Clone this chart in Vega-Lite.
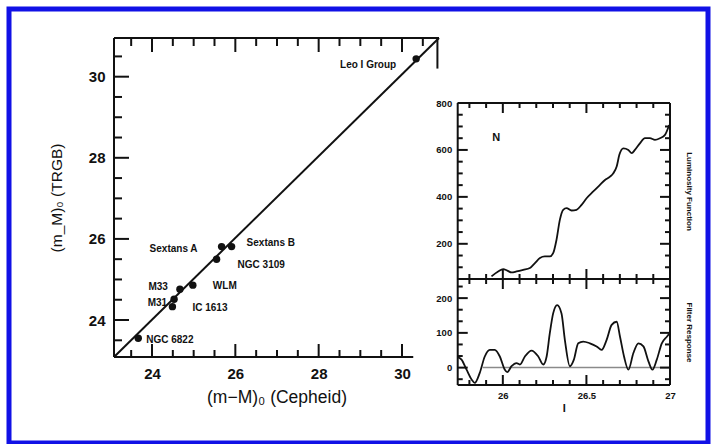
{
  "$schema": "https://vega.github.io/schema/vega-lite/v6.json",
  "autosize": {"type": "none"},
  "width": 699,
  "height": 434,
  "padding": {"left": 9, "top": 9, "right": 9, "bottom": 1},
  "background": "#ffffff",
  "config": {
    "view": {"stroke": "#1111e6", "strokeWidth": 5},
    "axis": {
      "grid": false,
      "ticks": false,
      "domain": false,
      "labelColor": "#111111",
      "titleColor": "#111111",
      "labelFont": "Liberation Sans",
      "titleFont": "Liberation Sans",
      "labelFontWeight": "bold",
      "titleFontWeight": "normal",
      "labelFlush": false,
      "labelOverlap": false,
      "title": null
    },
    "text": {"font": "Liberation Sans", "color": "#111111"}
  },
  "datasets": {
    "galaxies": [
      {"name": "Leo I Group", "cepheid": 30.34, "trgb": 30.44},
      {"name": "Sextans A", "cepheid": 25.67, "trgb": 25.81},
      {"name": "Sextans B", "cepheid": 25.91, "trgb": 25.81},
      {"name": "NGC 3109", "cepheid": 25.55, "trgb": 25.5},
      {"name": "WLM", "cepheid": 24.98, "trgb": 24.86},
      {"name": "M33", "cepheid": 24.67, "trgb": 24.76},
      {"name": "M31", "cepheid": 24.53, "trgb": 24.51},
      {"name": "IC 1613", "cepheid": 24.49, "trgb": 24.33},
      {"name": "NGC 6822", "cepheid": 23.67, "trgb": 23.55}
    ],
    "lumfunc": [
      {"I": 25.932, "N": 61}, {"I": 25.972, "N": 82}, {"I": 26.002, "N": 92}, {"I": 26.026, "N": 86},
      {"I": 26.052, "N": 78}, {"I": 26.082, "N": 82}, {"I": 26.122, "N": 89}, {"I": 26.162, "N": 97},
      {"I": 26.192, "N": 118}, {"I": 26.222, "N": 139}, {"I": 26.251, "N": 146}, {"I": 26.281, "N": 146},
      {"I": 26.301, "N": 160}, {"I": 26.321, "N": 217}, {"I": 26.341, "N": 302}, {"I": 26.361, "N": 345},
      {"I": 26.381, "N": 352}, {"I": 26.411, "N": 342}, {"I": 26.441, "N": 345}, {"I": 26.471, "N": 366},
      {"I": 26.501, "N": 394}, {"I": 26.541, "N": 423}, {"I": 26.581, "N": 451}, {"I": 26.611, "N": 472},
      {"I": 26.641, "N": 486}, {"I": 26.661, "N": 501}, {"I": 26.681, "N": 529}, {"I": 26.697, "N": 579},
      {"I": 26.721, "N": 607}, {"I": 26.751, "N": 600}, {"I": 26.771, "N": 586}, {"I": 26.79, "N": 600},
      {"I": 26.82, "N": 628}, {"I": 26.85, "N": 650}, {"I": 26.88, "N": 650}, {"I": 26.91, "N": 643},
      {"I": 26.94, "N": 650}, {"I": 26.97, "N": 664}, {"I": 26.995, "N": 706}
    ],
    "filter": [
      {"I": 25.73, "R": 30}, {"I": 25.753, "R": 23}, {"I": 25.783, "R": -6}, {"I": 25.813, "R": -34},
      {"I": 25.832, "R": -44}, {"I": 25.862, "R": -15}, {"I": 25.892, "R": 32}, {"I": 25.922, "R": 51},
      {"I": 25.952, "R": 51}, {"I": 25.982, "R": 32}, {"I": 26.012, "R": -6}, {"I": 26.026, "R": -13},
      {"I": 26.052, "R": 4}, {"I": 26.082, "R": 13}, {"I": 26.102, "R": 9}, {"I": 26.132, "R": 32},
      {"I": 26.172, "R": 49}, {"I": 26.212, "R": 32}, {"I": 26.242, "R": 9}, {"I": 26.262, "R": 32},
      {"I": 26.281, "R": 99}, {"I": 26.301, "R": 156}, {"I": 26.325, "R": 180}, {"I": 26.351, "R": 156},
      {"I": 26.371, "R": 80}, {"I": 26.401, "R": 4}, {"I": 26.425, "R": 23}, {"I": 26.451, "R": 70},
      {"I": 26.481, "R": 75}, {"I": 26.521, "R": 70}, {"I": 26.561, "R": 61}, {"I": 26.591, "R": 51},
      {"I": 26.621, "R": 80}, {"I": 26.651, "R": 123}, {"I": 26.681, "R": 132}, {"I": 26.701, "R": 89},
      {"I": 26.725, "R": 32}, {"I": 26.751, "R": -6}, {"I": 26.781, "R": 42}, {"I": 26.811, "R": 70},
      {"I": 26.841, "R": 61}, {"I": 26.871, "R": 18}, {"I": 26.895, "R": -6}, {"I": 26.921, "R": 23},
      {"I": 26.951, "R": 70}, {"I": 26.981, "R": 89}, {"I": 27.0, "R": 100}
    ]
  },
  "resolve": {"scale": {"x": "independent", "y": "independent"}},
  "layer": [
    {
      "description": "Distance moduli: TRGB against Cepheid, with the one-to-one line",
      "resolve": {"axis": {"x": "independent", "y": "independent"}},
      "layer": [
        {
          "data": {"values": [{}]},
          "mark": {"type": "rule", "color": "#111111", "strokeWidth": 2},
          "encoding": {
            "x": {"datum": 23.088, "type": "quantitative", "scale": {"domain": [23.088, 30.888], "range": [105, 430], "nice": false, "zero": false}, "axis": null},
            "y": {"datum": 23.088, "type": "quantitative", "scale": {"domain": [23.088, 30.954], "range": [348, 29], "nice": false, "zero": false}, "axis": null},
            "x2": {"datum": 30.888},
            "y2": {"datum": 30.954}
          }
        },
        {
          "data": {"values": [{}]},
          "mark": {"type": "rule", "color": "#111111", "strokeWidth": 2},
          "encoding": {
            "x": {"datum": 23.088, "type": "quantitative",
              "scale": {"domain": [23.088, 30.888], "range": [105, 430], "nice": false, "zero": false},
              "axis": {"orient": "bottom", "offset": -86, "values": [24, 26, 28, 30], "format": "d",
                "labelPadding": 9, "labelFontSize": 15,
                "title": "(m−M)₀ (Cepheid)", "titleFontSize": 17.5, "titlePadding": 7}},
            "x2": {"datum": 30.27},
            "y": {"datum": 23.088, "type": "quantitative",
              "scale": {"domain": [23.088, 30.954], "range": [348, 29], "nice": false, "zero": false},
              "axis": {"orient": "left", "offset": -105, "values": [24, 26, 28, 30], "format": "d",
                "labelPadding": 9, "labelFontSize": 15,
                "title": "(m_M)₀ (TRGB)", "titleFontSize": 15.5, "titlePadding": 24}}
          }
        },
        {
          "data": {"values": [{}]},
          "mark": {"type": "rule", "color": "#111111", "strokeWidth": 2},
          "encoding": {
            "x": {"datum": 23.088, "type": "quantitative", "scale": {"domain": [23.088, 30.888], "range": [105, 430], "nice": false, "zero": false}, "axis": null},
            "y": {"datum": 23.088, "type": "quantitative", "scale": {"domain": [23.088, 30.954], "range": [348, 29], "nice": false, "zero": false}, "axis": null},
            "y2": {"datum": 30.954}
          }
        },
        {
          "data": {"values": [{}]},
          "mark": {"type": "rule", "color": "#111111", "strokeWidth": 2},
          "encoding": {
            "x": {"datum": 23.088, "type": "quantitative", "scale": {"domain": [23.088, 30.888], "range": [105, 430], "nice": false, "zero": false}, "axis": null},
            "x2": {"datum": 30.888},
            "y": {"datum": 30.954, "type": "quantitative", "scale": {"domain": [23.088, 30.954], "range": [348, 29], "nice": false, "zero": false}, "axis": null}
          }
        },
        {
          "data": {"values": [{}]},
          "mark": {"type": "rule", "color": "#111111", "strokeWidth": 2},
          "encoding": {
            "x": {"datum": 30.85, "type": "quantitative", "scale": {"domain": [23.088, 30.888], "range": [105, 430], "nice": false, "zero": false}, "axis": null},
            "y": {"datum": 30.2, "type": "quantitative", "scale": {"domain": [23.088, 30.954], "range": [348, 29], "nice": false, "zero": false}, "axis": null},
            "y2": {"datum": 30.954}
          }
        },
        {
          "data": {"values": [{"at": 24}, {"at": 26}, {"at": 28}, {"at": 30}]},
          "mark": {"type": "rule", "color": "#111111", "strokeWidth": 2},
          "encoding": {
            "x": {"field": "at", "type": "quantitative", "scale": {"domain": [23.088, 30.888], "range": [105, 430], "nice": false, "zero": false}, "axis": null},
            "y": {"datum": 23.088, "type": "quantitative", "scale": {"domain": [23.088, 30.954], "range": [348, 29], "nice": false, "zero": false}, "axis": null},
            "y2": {"datum": 23.408}
          }
        },
        {
          "data": {"values": [{"at": 23.5}, {"at": 24.5}, {"at": 25}, {"at": 25.5}, {"at": 26.5}, {"at": 27}, {"at": 27.5}, {"at": 28.5}, {"at": 29}, {"at": 29.5}]},
          "mark": {"type": "rule", "color": "#111111", "strokeWidth": 2},
          "encoding": {
            "x": {"field": "at", "type": "quantitative", "scale": {"domain": [23.088, 30.888], "range": [105, 430], "nice": false, "zero": false}, "axis": null},
            "y": {"datum": 23.088, "type": "quantitative", "scale": {"domain": [23.088, 30.954], "range": [348, 29], "nice": false, "zero": false}, "axis": null},
            "y2": {"datum": 23.261}
          }
        },
        {
          "data": {"values": [{"at": 24}, {"at": 26}, {"at": 28}, {"at": 30}]},
          "mark": {"type": "rule", "color": "#111111", "strokeWidth": 2},
          "encoding": {
            "x": {"field": "at", "type": "quantitative", "scale": {"domain": [23.088, 30.888], "range": [105, 430], "nice": false, "zero": false}, "axis": null},
            "y": {"datum": 30.954, "type": "quantitative", "scale": {"domain": [23.088, 30.954], "range": [348, 29], "nice": false, "zero": false}, "axis": null},
            "y2": {"datum": 30.609}
          }
        },
        {
          "data": {"values": [{"at": 23.5}, {"at": 24.5}, {"at": 25}, {"at": 25.5}, {"at": 26.5}, {"at": 27}, {"at": 27.5}, {"at": 28.5}, {"at": 29}, {"at": 29.5}, {"at": 30.5}]},
          "mark": {"type": "rule", "color": "#111111", "strokeWidth": 2},
          "encoding": {
            "x": {"field": "at", "type": "quantitative", "scale": {"domain": [23.088, 30.888], "range": [105, 430], "nice": false, "zero": false}, "axis": null},
            "y": {"datum": 30.954, "type": "quantitative", "scale": {"domain": [23.088, 30.954], "range": [348, 29], "nice": false, "zero": false}, "axis": null},
            "y2": {"datum": 30.757}
          }
        },
        {
          "data": {"values": [{"at": 24}, {"at": 26}, {"at": 28}, {"at": 30}]},
          "mark": {"type": "rule", "color": "#111111", "strokeWidth": 2},
          "encoding": {
            "x": {"datum": 23.088, "type": "quantitative", "scale": {"domain": [23.088, 30.888], "range": [105, 430], "nice": false, "zero": false}, "axis": null},
            "x2": {"datum": 23.448},
            "y": {"field": "at", "type": "quantitative", "scale": {"domain": [23.088, 30.954], "range": [348, 29], "nice": false, "zero": false}, "axis": null}
          }
        },
        {
          "data": {"values": [{"at": 23.5}, {"at": 24.5}, {"at": 25}, {"at": 25.5}, {"at": 26.5}, {"at": 27}, {"at": 27.5}, {"at": 28.5}, {"at": 29}, {"at": 29.5}, {"at": 30.5}]},
          "mark": {"type": "rule", "color": "#111111", "strokeWidth": 2},
          "encoding": {
            "x": {"datum": 23.088, "type": "quantitative", "scale": {"domain": [23.088, 30.888], "range": [105, 430], "nice": false, "zero": false}, "axis": null},
            "x2": {"datum": 23.28},
            "y": {"field": "at", "type": "quantitative", "scale": {"domain": [23.088, 30.954], "range": [348, 29], "nice": false, "zero": false}, "axis": null}
          }
        },
        {
          "data": {"name": "galaxies"},
          "mark": {"type": "circle", "size": 55, "color": "#111111", "opacity": 1},
          "encoding": {
            "x": {"field": "cepheid", "type": "quantitative", "scale": {"domain": [23.088, 30.888], "range": [105, 430], "nice": false, "zero": false}, "axis": null},
            "y": {"field": "trgb", "type": "quantitative", "scale": {"domain": [23.088, 30.954], "range": [348, 29], "nice": false, "zero": false}, "axis": null}
          }
        },
        {
          "data": {"name": "galaxies"},
          "transform": [{"filter": {"field": "name", "oneOf": ["Leo I Group"]}}],
          "mark": {"type": "text", "align": "right", "baseline": "middle", "dx": -20, "dy": 6, "fontSize": 10, "fontWeight": "bold"},
          "encoding": {
            "x": {"field": "cepheid", "type": "quantitative", "scale": {"domain": [23.088, 30.888], "range": [105, 430], "nice": false, "zero": false}, "axis": null},
            "y": {"field": "trgb", "type": "quantitative", "scale": {"domain": [23.088, 30.954], "range": [348, 29], "nice": false, "zero": false}, "axis": null},
            "text": {"field": "name"}
          }
        },
        {
          "data": {"name": "galaxies"},
          "transform": [{"filter": {"field": "name", "oneOf": ["Sextans A"]}}],
          "mark": {"type": "text", "align": "right", "baseline": "middle", "dx": -24, "dy": 2, "fontSize": 10, "fontWeight": "bold"},
          "encoding": {
            "x": {"field": "cepheid", "type": "quantitative", "scale": {"domain": [23.088, 30.888], "range": [105, 430], "nice": false, "zero": false}, "axis": null},
            "y": {"field": "trgb", "type": "quantitative", "scale": {"domain": [23.088, 30.954], "range": [348, 29], "nice": false, "zero": false}, "axis": null},
            "text": {"field": "name"}
          }
        },
        {
          "data": {"name": "galaxies"},
          "transform": [{"filter": {"field": "name", "oneOf": ["M33"]}}],
          "mark": {"type": "text", "align": "right", "baseline": "middle", "dx": -12, "dy": -2, "fontSize": 10, "fontWeight": "bold"},
          "encoding": {
            "x": {"field": "cepheid", "type": "quantitative", "scale": {"domain": [23.088, 30.888], "range": [105, 430], "nice": false, "zero": false}, "axis": null},
            "y": {"field": "trgb", "type": "quantitative", "scale": {"domain": [23.088, 30.954], "range": [348, 29], "nice": false, "zero": false}, "axis": null},
            "text": {"field": "name"}
          }
        },
        {
          "data": {"name": "galaxies"},
          "transform": [{"filter": {"field": "name", "oneOf": ["M31"]}}],
          "mark": {"type": "text", "align": "right", "baseline": "middle", "dx": -7, "dy": 4, "fontSize": 10, "fontWeight": "bold"},
          "encoding": {
            "x": {"field": "cepheid", "type": "quantitative", "scale": {"domain": [23.088, 30.888], "range": [105, 430], "nice": false, "zero": false}, "axis": null},
            "y": {"field": "trgb", "type": "quantitative", "scale": {"domain": [23.088, 30.954], "range": [348, 29], "nice": false, "zero": false}, "axis": null},
            "text": {"field": "name"}
          }
        },
        {
          "data": {"name": "galaxies"},
          "transform": [{"filter": {"field": "name", "oneOf": ["Sextans B"]}}],
          "mark": {"type": "text", "align": "left", "baseline": "middle", "dx": 15, "dy": -4, "fontSize": 10, "fontWeight": "bold"},
          "encoding": {
            "x": {"field": "cepheid", "type": "quantitative", "scale": {"domain": [23.088, 30.888], "range": [105, 430], "nice": false, "zero": false}, "axis": null},
            "y": {"field": "trgb", "type": "quantitative", "scale": {"domain": [23.088, 30.954], "range": [348, 29], "nice": false, "zero": false}, "axis": null},
            "text": {"field": "name"}
          }
        },
        {
          "data": {"name": "galaxies"},
          "transform": [{"filter": {"field": "name", "oneOf": ["NGC 3109"]}}],
          "mark": {"type": "text", "align": "left", "baseline": "middle", "dx": 21, "dy": 6, "fontSize": 10, "fontWeight": "bold"},
          "encoding": {
            "x": {"field": "cepheid", "type": "quantitative", "scale": {"domain": [23.088, 30.888], "range": [105, 430], "nice": false, "zero": false}, "axis": null},
            "y": {"field": "trgb", "type": "quantitative", "scale": {"domain": [23.088, 30.954], "range": [348, 29], "nice": false, "zero": false}, "axis": null},
            "text": {"field": "name"}
          }
        },
        {
          "data": {"name": "galaxies"},
          "transform": [{"filter": {"field": "name", "oneOf": ["WLM", "IC 1613"]}}],
          "mark": {"type": "text", "align": "left", "baseline": "middle", "dx": 20, "dy": 1, "fontSize": 10, "fontWeight": "bold"},
          "encoding": {
            "x": {"field": "cepheid", "type": "quantitative", "scale": {"domain": [23.088, 30.888], "range": [105, 430], "nice": false, "zero": false}, "axis": null},
            "y": {"field": "trgb", "type": "quantitative", "scale": {"domain": [23.088, 30.954], "range": [348, 29], "nice": false, "zero": false}, "axis": null},
            "text": {"field": "name"}
          }
        },
        {
          "data": {"name": "galaxies"},
          "transform": [{"filter": {"field": "name", "oneOf": ["NGC 6822"]}}],
          "mark": {"type": "text", "align": "left", "baseline": "middle", "dx": 8, "dy": 2, "fontSize": 10, "fontWeight": "bold"},
          "encoding": {
            "x": {"field": "cepheid", "type": "quantitative", "scale": {"domain": [23.088, 30.888], "range": [105, 430], "nice": false, "zero": false}, "axis": null},
            "y": {"field": "trgb", "type": "quantitative", "scale": {"domain": [23.088, 30.954], "range": [348, 29], "nice": false, "zero": false}, "axis": null},
            "text": {"field": "name"}
          }
        }
      ]
    },
    {
      "description": "Luminosity function of the upper giant branch",
      "resolve": {"axis": {"x": "independent", "y": "independent"}},
      "layer": [
        {
          "data": {"values": [{}]},
          "mark": {"type": "rule", "color": "#111111", "strokeWidth": 2},
          "encoding": {
            "x": {"datum": 25.73, "type": "quantitative", "scale": {"domain": [25.73, 27.0], "range": [448.7, 661], "nice": false, "zero": false}, "axis": null},
            "y": {"datum": 50, "type": "quantitative",
              "scale": {"domain": [50, 800], "range": [270, 94], "nice": false, "zero": false},
              "axis": {"orient": "left", "offset": -448.7, "values": [200, 400, 600, 800], "format": "d", "labelPadding": 6, "labelFontSize": 9.5}},
            "y2": {"datum": 800}
          }
        },
        {
          "data": {"values": [{}]},
          "mark": {"type": "rule", "color": "#111111", "strokeWidth": 2},
          "encoding": {
            "x": {"datum": 27.0, "type": "quantitative", "scale": {"domain": [25.73, 27.0], "range": [448.7, 661], "nice": false, "zero": false}, "axis": null},
            "y": {"datum": 50, "type": "quantitative",
              "scale": {"domain": [50, 800], "range": [270, 94], "nice": false, "zero": false},
              "axis": {"orient": "right", "offset": -38, "labels": false,
                "title": "Luminosity Function", "titleFontSize": 8, "titleFontWeight": "bold", "titlePadding": 14}},
            "y2": {"datum": 800}
          }
        },
        {
          "data": {"values": [{}]},
          "mark": {"type": "rule", "color": "#111111", "strokeWidth": 2},
          "encoding": {
            "x": {"datum": 25.73, "type": "quantitative", "scale": {"domain": [25.73, 27.0], "range": [448.7, 661], "nice": false, "zero": false}, "axis": null},
            "x2": {"datum": 27.0},
            "y": {"datum": 800, "type": "quantitative", "scale": {"domain": [50, 800], "range": [270, 94], "nice": false, "zero": false}, "axis": null}
          }
        },
        {
          "data": {"values": [{}]},
          "mark": {"type": "rule", "color": "#111111", "strokeWidth": 2},
          "encoding": {
            "x": {"datum": 25.73, "type": "quantitative", "scale": {"domain": [25.73, 27.0], "range": [448.7, 661], "nice": false, "zero": false}, "axis": null},
            "x2": {"datum": 27.0},
            "y": {"datum": 50, "type": "quantitative", "scale": {"domain": [50, 800], "range": [270, 94], "nice": false, "zero": false}, "axis": null}
          }
        },
        {
          "data": {"values": [{"at": 26}, {"at": 26.5}, {"at": 27}]},
          "mark": {"type": "rule", "color": "#111111", "strokeWidth": 2},
          "encoding": {
            "x": {"field": "at", "type": "quantitative", "scale": {"domain": [25.73, 27.0], "range": [448.7, 661], "nice": false, "zero": false}, "axis": null},
            "y": {"datum": 800, "type": "quantitative", "scale": {"domain": [50, 800], "range": [270, 94], "nice": false, "zero": false}, "axis": null},
            "y2": {"datum": 757.4}
          }
        },
        {
          "data": {"values": [{"at": 25.8}, {"at": 25.9}, {"at": 26.1}, {"at": 26.2}, {"at": 26.3}, {"at": 26.4}, {"at": 26.6}, {"at": 26.7}, {"at": 26.8}, {"at": 26.9}]},
          "mark": {"type": "rule", "color": "#111111", "strokeWidth": 2},
          "encoding": {
            "x": {"field": "at", "type": "quantitative", "scale": {"domain": [25.73, 27.0], "range": [448.7, 661], "nice": false, "zero": false}, "axis": null},
            "y": {"datum": 800, "type": "quantitative", "scale": {"domain": [50, 800], "range": [270, 94], "nice": false, "zero": false}, "axis": null},
            "y2": {"datum": 778.7}
          }
        },
        {
          "data": {"values": [{"at": 26}, {"at": 26.5}, {"at": 27}]},
          "mark": {"type": "rule", "color": "#111111", "strokeWidth": 2},
          "encoding": {
            "x": {"field": "at", "type": "quantitative", "scale": {"domain": [25.73, 27.0], "range": [448.7, 661], "nice": false, "zero": false}, "axis": null},
            "y": {"datum": 50, "type": "quantitative", "scale": {"domain": [50, 800], "range": [270, 94], "nice": false, "zero": false}, "axis": null},
            "y2": {"datum": 92.6}
          }
        },
        {
          "data": {"values": [{"at": 25.8}, {"at": 25.9}, {"at": 26.1}, {"at": 26.2}, {"at": 26.3}, {"at": 26.4}, {"at": 26.6}, {"at": 26.7}, {"at": 26.8}, {"at": 26.9}]},
          "mark": {"type": "rule", "color": "#111111", "strokeWidth": 2},
          "encoding": {
            "x": {"field": "at", "type": "quantitative", "scale": {"domain": [25.73, 27.0], "range": [448.7, 661], "nice": false, "zero": false}, "axis": null},
            "y": {"datum": 50, "type": "quantitative", "scale": {"domain": [50, 800], "range": [270, 94], "nice": false, "zero": false}, "axis": null},
            "y2": {"datum": 71.3}
          }
        },
        {
          "data": {"values": [{"at": 200}, {"at": 400}, {"at": 600}, {"at": 800}]},
          "mark": {"type": "rule", "color": "#111111", "strokeWidth": 2},
          "encoding": {
            "x": {"datum": 25.73, "type": "quantitative", "scale": {"domain": [25.73, 27.0], "range": [448.7, 661], "nice": false, "zero": false}, "axis": null},
            "x2": {"datum": 25.79},
            "y": {"field": "at", "type": "quantitative", "scale": {"domain": [50, 800], "range": [270, 94], "nice": false, "zero": false}, "axis": null}
          }
        },
        {
          "data": {"values": [{"at": 100}, {"at": 150}, {"at": 250}, {"at": 300}, {"at": 350}, {"at": 450}, {"at": 500}, {"at": 550}, {"at": 650}, {"at": 700}, {"at": 750}]},
          "mark": {"type": "rule", "color": "#111111", "strokeWidth": 2},
          "encoding": {
            "x": {"datum": 25.73, "type": "quantitative", "scale": {"domain": [25.73, 27.0], "range": [448.7, 661], "nice": false, "zero": false}, "axis": null},
            "x2": {"datum": 25.76},
            "y": {"field": "at", "type": "quantitative", "scale": {"domain": [50, 800], "range": [270, 94], "nice": false, "zero": false}, "axis": null}
          }
        },
        {
          "data": {"values": [{"at": 200}, {"at": 400}, {"at": 600}, {"at": 800}]},
          "mark": {"type": "rule", "color": "#111111", "strokeWidth": 2},
          "encoding": {
            "x": {"datum": 27.0, "type": "quantitative", "scale": {"domain": [25.73, 27.0], "range": [448.7, 661], "nice": false, "zero": false}, "axis": null},
            "x2": {"datum": 26.94},
            "y": {"field": "at", "type": "quantitative", "scale": {"domain": [50, 800], "range": [270, 94], "nice": false, "zero": false}, "axis": null}
          }
        },
        {
          "data": {"values": [{"at": 100}, {"at": 150}, {"at": 250}, {"at": 300}, {"at": 350}, {"at": 450}, {"at": 500}, {"at": 550}, {"at": 650}, {"at": 700}, {"at": 750}]},
          "mark": {"type": "rule", "color": "#111111", "strokeWidth": 2},
          "encoding": {
            "x": {"datum": 27.0, "type": "quantitative", "scale": {"domain": [25.73, 27.0], "range": [448.7, 661], "nice": false, "zero": false}, "axis": null},
            "x2": {"datum": 26.97},
            "y": {"field": "at", "type": "quantitative", "scale": {"domain": [50, 800], "range": [270, 94], "nice": false, "zero": false}, "axis": null}
          }
        },
        {
          "data": {"name": "lumfunc"},
          "mark": {"type": "line", "color": "#111111", "strokeWidth": 1.8, "interpolate": "monotone"},
          "encoding": {
            "x": {"field": "I", "type": "quantitative", "scale": {"domain": [25.73, 27.0], "range": [448.7, 661], "nice": false, "zero": false}, "axis": null},
            "y": {"field": "N", "type": "quantitative", "scale": {"domain": [50, 800], "range": [270, 94], "nice": false, "zero": false}, "axis": null}
          }
        },
        {
          "data": {"values": [{}]},
          "mark": {"type": "text", "fontSize": 11, "fontWeight": "bold", "align": "center", "baseline": "middle"},
          "encoding": {
            "x": {"datum": 25.96, "type": "quantitative", "scale": {"domain": [25.73, 27.0], "range": [448.7, 661], "nice": false, "zero": false}, "axis": null},
            "y": {"datum": 650, "type": "quantitative", "scale": {"domain": [50, 800], "range": [270, 94], "nice": false, "zero": false}, "axis": null},
            "text": {"value": "N"}
          }
        }
      ]
    },
    {
      "description": "Response of the edge-detection filter",
      "resolve": {"axis": {"x": "independent", "y": "independent"}},
      "layer": [
        {
          "data": {"values": [{}]},
          "mark": {"type": "rule", "color": "#8a8a8a", "strokeWidth": 1.5},
          "encoding": {
            "x": {"datum": 25.88, "type": "quantitative", "scale": {"domain": [25.73, 27.0], "range": [448.7, 661], "nice": false, "zero": false}, "axis": null},
            "x2": {"datum": 27.0},
            "y": {"datum": 0, "type": "quantitative", "scale": {"domain": [-50, 255], "range": [376, 270], "nice": false, "zero": false}, "axis": null}
          }
        },
        {
          "data": {"values": [{}]},
          "mark": {"type": "rule", "color": "#111111", "strokeWidth": 2},
          "encoding": {
            "x": {"datum": 25.73, "type": "quantitative",
              "scale": {"domain": [25.73, 27.0], "range": [448.7, 661], "nice": false, "zero": false},
              "axis": {"orient": "bottom", "offset": -58, "values": [26, 26.5, 27], "format": "~g",
                "labelPadding": 5, "labelFontSize": 9.5,
                "title": "I", "titleFontSize": 11, "titleFontWeight": "bold", "titlePadding": 3}},
            "y": {"datum": -50, "type": "quantitative",
              "scale": {"domain": [-50, 255], "range": [376, 270], "nice": false, "zero": false},
              "axis": {"orient": "left", "offset": -448.7, "values": [0, 100, 200], "format": "d", "labelPadding": 6, "labelFontSize": 9.5}},
            "y2": {"datum": 255}
          }
        },
        {
          "data": {"values": [{}]},
          "mark": {"type": "rule", "color": "#111111", "strokeWidth": 2},
          "encoding": {
            "x": {"datum": 27.0, "type": "quantitative", "scale": {"domain": [25.73, 27.0], "range": [448.7, 661], "nice": false, "zero": false}, "axis": null},
            "y": {"datum": -50, "type": "quantitative",
              "scale": {"domain": [-50, 255], "range": [376, 270], "nice": false, "zero": false},
              "axis": {"orient": "right", "offset": -38, "labels": false,
                "title": "Filter Response", "titleFontSize": 8, "titleFontWeight": "bold", "titlePadding": 14}},
            "y2": {"datum": 255}
          }
        },
        {
          "data": {"values": [{}]},
          "mark": {"type": "rule", "color": "#111111", "strokeWidth": 2},
          "encoding": {
            "x": {"datum": 25.73, "type": "quantitative", "scale": {"domain": [25.73, 27.0], "range": [448.7, 661], "nice": false, "zero": false}, "axis": null},
            "x2": {"datum": 27.0},
            "y": {"datum": 255, "type": "quantitative", "scale": {"domain": [-50, 255], "range": [376, 270], "nice": false, "zero": false}, "axis": null}
          }
        },
        {
          "data": {"values": [{}]},
          "mark": {"type": "rule", "color": "#111111", "strokeWidth": 2},
          "encoding": {
            "x": {"datum": 25.73, "type": "quantitative", "scale": {"domain": [25.73, 27.0], "range": [448.7, 661], "nice": false, "zero": false}, "axis": null},
            "x2": {"datum": 27.0},
            "y": {"datum": -50, "type": "quantitative", "scale": {"domain": [-50, 255], "range": [376, 270], "nice": false, "zero": false}, "axis": null}
          }
        },
        {
          "data": {"values": [{"at": 26}, {"at": 26.5}, {"at": 27}]},
          "mark": {"type": "rule", "color": "#111111", "strokeWidth": 2},
          "encoding": {
            "x": {"field": "at", "type": "quantitative", "scale": {"domain": [25.73, 27.0], "range": [448.7, 661], "nice": false, "zero": false}, "axis": null},
            "y": {"datum": 255, "type": "quantitative", "scale": {"domain": [-50, 255], "range": [376, 270], "nice": false, "zero": false}, "axis": null},
            "y2": {"datum": 226.2}
          }
        },
        {
          "data": {"values": [{"at": 25.8}, {"at": 25.9}, {"at": 26.1}, {"at": 26.2}, {"at": 26.3}, {"at": 26.4}, {"at": 26.6}, {"at": 26.7}, {"at": 26.8}, {"at": 26.9}]},
          "mark": {"type": "rule", "color": "#111111", "strokeWidth": 2},
          "encoding": {
            "x": {"field": "at", "type": "quantitative", "scale": {"domain": [25.73, 27.0], "range": [448.7, 661], "nice": false, "zero": false}, "axis": null},
            "y": {"datum": 255, "type": "quantitative", "scale": {"domain": [-50, 255], "range": [376, 270], "nice": false, "zero": false}, "axis": null},
            "y2": {"datum": 240.6}
          }
        },
        {
          "data": {"values": [{"at": 26}, {"at": 26.5}, {"at": 27}]},
          "mark": {"type": "rule", "color": "#111111", "strokeWidth": 2},
          "encoding": {
            "x": {"field": "at", "type": "quantitative", "scale": {"domain": [25.73, 27.0], "range": [448.7, 661], "nice": false, "zero": false}, "axis": null},
            "y": {"datum": -50, "type": "quantitative", "scale": {"domain": [-50, 255], "range": [376, 270], "nice": false, "zero": false}, "axis": null},
            "y2": {"datum": -21.2}
          }
        },
        {
          "data": {"values": [{"at": 25.8}, {"at": 25.9}, {"at": 26.1}, {"at": 26.2}, {"at": 26.3}, {"at": 26.4}, {"at": 26.6}, {"at": 26.7}, {"at": 26.8}, {"at": 26.9}]},
          "mark": {"type": "rule", "color": "#111111", "strokeWidth": 2},
          "encoding": {
            "x": {"field": "at", "type": "quantitative", "scale": {"domain": [25.73, 27.0], "range": [448.7, 661], "nice": false, "zero": false}, "axis": null},
            "y": {"datum": -50, "type": "quantitative", "scale": {"domain": [-50, 255], "range": [376, 270], "nice": false, "zero": false}, "axis": null},
            "y2": {"datum": -35.6}
          }
        },
        {
          "data": {"values": [{"at": 0}, {"at": 100}, {"at": 200}]},
          "mark": {"type": "rule", "color": "#111111", "strokeWidth": 2},
          "encoding": {
            "x": {"datum": 25.73, "type": "quantitative", "scale": {"domain": [25.73, 27.0], "range": [448.7, 661], "nice": false, "zero": false}, "axis": null},
            "x2": {"datum": 25.79},
            "y": {"field": "at", "type": "quantitative", "scale": {"domain": [-50, 255], "range": [376, 270], "nice": false, "zero": false}, "axis": null}
          }
        },
        {
          "data": {"values": [{"at": -33.333}, {"at": 33.333}, {"at": 66.667}, {"at": 133.333}, {"at": 166.667}, {"at": 233.333}]},
          "mark": {"type": "rule", "color": "#111111", "strokeWidth": 2},
          "encoding": {
            "x": {"datum": 25.73, "type": "quantitative", "scale": {"domain": [25.73, 27.0], "range": [448.7, 661], "nice": false, "zero": false}, "axis": null},
            "x2": {"datum": 25.76},
            "y": {"field": "at", "type": "quantitative", "scale": {"domain": [-50, 255], "range": [376, 270], "nice": false, "zero": false}, "axis": null}
          }
        },
        {
          "data": {"values": [{"at": 0}, {"at": 100}, {"at": 200}]},
          "mark": {"type": "rule", "color": "#111111", "strokeWidth": 2},
          "encoding": {
            "x": {"datum": 27.0, "type": "quantitative", "scale": {"domain": [25.73, 27.0], "range": [448.7, 661], "nice": false, "zero": false}, "axis": null},
            "x2": {"datum": 26.94},
            "y": {"field": "at", "type": "quantitative", "scale": {"domain": [-50, 255], "range": [376, 270], "nice": false, "zero": false}, "axis": null}
          }
        },
        {
          "data": {"values": [{"at": -33.333}, {"at": 33.333}, {"at": 66.667}, {"at": 133.333}, {"at": 166.667}, {"at": 233.333}]},
          "mark": {"type": "rule", "color": "#111111", "strokeWidth": 2},
          "encoding": {
            "x": {"datum": 27.0, "type": "quantitative", "scale": {"domain": [25.73, 27.0], "range": [448.7, 661], "nice": false, "zero": false}, "axis": null},
            "x2": {"datum": 26.97},
            "y": {"field": "at", "type": "quantitative", "scale": {"domain": [-50, 255], "range": [376, 270], "nice": false, "zero": false}, "axis": null}
          }
        },
        {
          "data": {"name": "filter"},
          "mark": {"type": "line", "color": "#111111", "strokeWidth": 1.8, "interpolate": "monotone"},
          "encoding": {
            "x": {"field": "I", "type": "quantitative", "scale": {"domain": [25.73, 27.0], "range": [448.7, 661], "nice": false, "zero": false}, "axis": null},
            "y": {"field": "R", "type": "quantitative", "scale": {"domain": [-50, 255], "range": [376, 270], "nice": false, "zero": false}, "axis": null}
          }
        }
      ]
    }
  ]
}
